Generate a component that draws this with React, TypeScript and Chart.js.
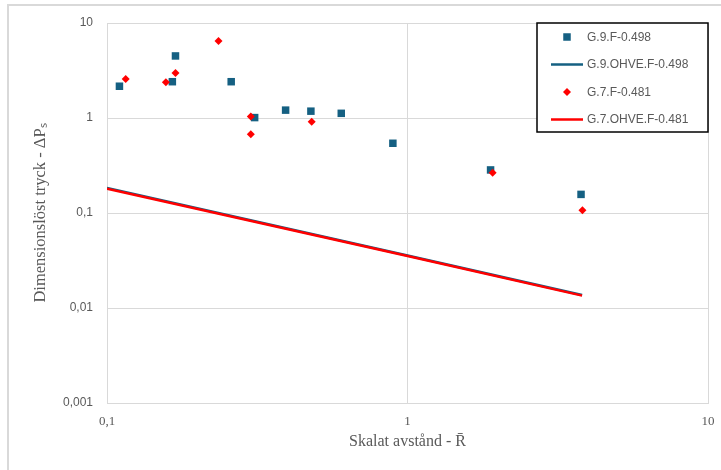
import React, { useEffect, useRef } from 'react';
import { Chart, registerables } from 'chart.js';

Chart.register(...registerables);

// ---- data ----
const seriesLabels = ['G.9.F-0.498', 'G.9.OHVE.F-0.498', 'G.7.F-0.481', 'G.7.OHVE.F-0.481'];

const g9FX = [0.11, 0.165, 0.169, 0.259, 0.31, 0.393, 0.477, 0.602, 0.894, 1.89, 3.78];
const g9FY = [2.16, 2.41, 4.5, 2.41, 1.01, 1.21, 1.18, 1.12, 0.542, 0.284, 0.157];

const g9OhveX = [0.1, 1, 3.81];
const g9OhveY = [0.183, 0.0357, 0.0137];

const g7FX = [0.1154, 0.157, 0.169, 0.235, 0.301, 0.301, 0.48, 1.92, 3.82];
const g7FY = [2.57, 2.38, 2.98, 6.47, 1.04, 0.674, 0.914, 0.266, 0.107];

const g7OhveX = [0.1, 1, 3.81];
const g7OhveY = [0.18, 0.0352, 0.0135];

const xTickValues = [0.1, 1, 10];
const yTickValues = [0.001, 0.01, 0.1, 1, 10];

const xTitle = 'Skalat avstånd - R\u0304';
const yTitle = 'Dimensionslöst tryck - ΔPₛ';

// ---- styles ----
const BLUE = '#156082';
const RED = '#FF0000';
const GRID = '#D9D9D9';
const TEXT = '#595959';

const fmt = (v: number) => String(v).replace('.', ',');
const pts = (xs: number[], ys: number[]) => xs.map((x, i) => ({ x, y: ys[i] }));

const framePlugin = {
  id: 'outerFrame',
  beforeDraw(chart: any) {
    const { ctx, width, height } = chart;
    ctx.save();
    ctx.fillStyle = '#ffffff';
    ctx.fillRect(0, 0, width, height);
    ctx.strokeStyle = GRID;
    ctx.lineWidth = 2;
    ctx.beginPath();
    ctx.moveTo(8, height + 2);
    ctx.lineTo(8, 5);
    ctx.lineTo(width + 2, 5);
    ctx.stroke();
    ctx.restore();
  },
};

const boxLegendPlugin = {
  id: 'boxLegend',
  afterDatasetsDraw(chart: any) {
    const { ctx, chartArea } = chart;
    const w = 171;
    const h = 109;
    const x0 = chartArea.right - w;
    const y0 = chartArea.top;
    ctx.save();
    ctx.fillStyle = '#ffffff';
    ctx.fillRect(x0, y0, w, h);
    ctx.strokeStyle = '#000000';
    ctx.lineWidth = 1.5;
    ctx.strokeRect(x0, y0, w, h);
    chart.data.datasets.forEach((ds: any, i: number) => {
      const cy = y0 + 14 + i * 27.5;
      const mx = x0 + 30;
      const color = ds.borderColor;
      if (ds.showLine) {
        ctx.strokeStyle = color;
        ctx.lineWidth = 2.5;
        ctx.beginPath();
        ctx.moveTo(x0 + 14, cy);
        ctx.lineTo(x0 + 46, cy);
        ctx.stroke();
      } else if (ds.pointStyle === 'rect') {
        ctx.fillStyle = ds.backgroundColor;
        ctx.fillRect(mx - 3.75, cy - 3.75, 7.5, 7.5);
      } else {
        ctx.fillStyle = ds.backgroundColor;
        ctx.beginPath();
        ctx.moveTo(mx - 4, cy);
        ctx.lineTo(mx, cy - 4);
        ctx.lineTo(mx + 4, cy);
        ctx.lineTo(mx, cy + 4);
        ctx.closePath();
        ctx.fill();
      }
      ctx.fillStyle = TEXT;
      ctx.font = '12px "Liberation Sans", Arial, sans-serif';
      ctx.textBaseline = 'middle';
      ctx.textAlign = 'left';
      ctx.fillText(ds.label, x0 + 50, cy + 0.5);
    });
    ctx.restore();
  },
};

export default function App() {
  const canvasRef = useRef<HTMLCanvasElement | null>(null);

  useEffect(() => {
    document.body.style.margin = '0';
    const canvas = canvasRef.current;
    if (!canvas) return;
    const chart = new Chart(canvas, {
      type: 'scatter',
      data: {
        datasets: [
          {
            label: seriesLabels[0],
            data: pts(g9FX, g9FY),
            pointStyle: 'rect',
            pointRadius: 5.3,
            pointHoverRadius: 5.3,
            backgroundColor: BLUE,
            borderColor: BLUE,
            borderWidth: 0,
            showLine: false,
            order: 1,
          },
          {
            label: seriesLabels[1],
            data: pts(g9OhveX, g9OhveY),
            showLine: true,
            pointRadius: 0,
            borderColor: BLUE,
            backgroundColor: BLUE,
            borderWidth: 2.5,
            order: 4,
          },
          {
            label: seriesLabels[2],
            data: pts(g7FX, g7FY),
            pointStyle: 'rectRot',
            pointRadius: 4,
            pointHoverRadius: 4,
            backgroundColor: RED,
            borderColor: RED,
            borderWidth: 0,
            showLine: false,
            order: 0,
          },
          {
            label: seriesLabels[3],
            data: pts(g7OhveX, g7OhveY),
            showLine: true,
            pointRadius: 0,
            borderColor: RED,
            backgroundColor: RED,
            borderWidth: 2.5,
            order: 3,
          },
        ],
      },
      options: {
        responsive: false,
        animation: false,
        events: [],
        layout: { padding: { left: 0, right: 13, top: 23, bottom: 0 } },
        plugins: {
          legend: { display: false },
          tooltip: { enabled: false },
          title: { display: false },
        },
        scales: {
          x: {
            type: 'logarithmic',
            position: 'bottom',
            min: 0.1,
            max: 10,
            afterBuildTicks: (scale: any) => {
              scale.ticks = xTickValues.map((v) => ({ value: v }));
            },
            afterFit: (scale: any) => {
              scale.height = 67;
              scale.paddingLeft = 0;
              scale.paddingRight = 0;
            },
            grid: { color: GRID, lineWidth: 1, drawTicks: false },
            border: { display: true, color: GRID, width: 1 },
            ticks: {
              autoSkip: false,
              maxRotation: 0,
              padding: 11,
              color: TEXT,
              font: { family: '"Liberation Serif", serif', size: 13 },
              callback: (v: any) => fmt(Number(v)),
            },
            title: {
              display: true,
              text: xTitle,
              color: TEXT,
              font: { family: '"Liberation Serif", serif', size: 16 },
              padding: { top: 2, bottom: 19 },
            },
          },
          y: {
            type: 'logarithmic',
            position: 'left',
            min: 0.001,
            max: 10,
            afterBuildTicks: (scale: any) => {
              scale.ticks = yTickValues.map((v) => ({ value: v }));
            },
            afterFit: (scale: any) => {
              scale.width = 107;
            },
            grid: { color: GRID, lineWidth: 1, drawTicks: false },
            border: { display: true, color: GRID, width: 1 },
            ticks: {
              autoSkip: false,
              padding: 14,
              color: TEXT,
              font: { family: '"Liberation Sans", Arial, sans-serif', size: 12 },
              callback: (v: any) => fmt(Number(v)),
            },
            title: {
              display: true,
              text: yTitle,
              color: TEXT,
              font: { family: '"Liberation Serif", serif', size: 16.5 },
              padding: { top: 31, bottom: 0 },
            },
          },
        },
      },
      plugins: [framePlugin, boxLegendPlugin],
    } as any);
    return () => chart.destroy();
  }, []);

  return (
    <div style={{ width: 721, height: 470, position: 'relative' }}>
      <canvas ref={canvasRef} width={721} height={470} style={{ display: 'block' }} />
    </div>
  );
}
